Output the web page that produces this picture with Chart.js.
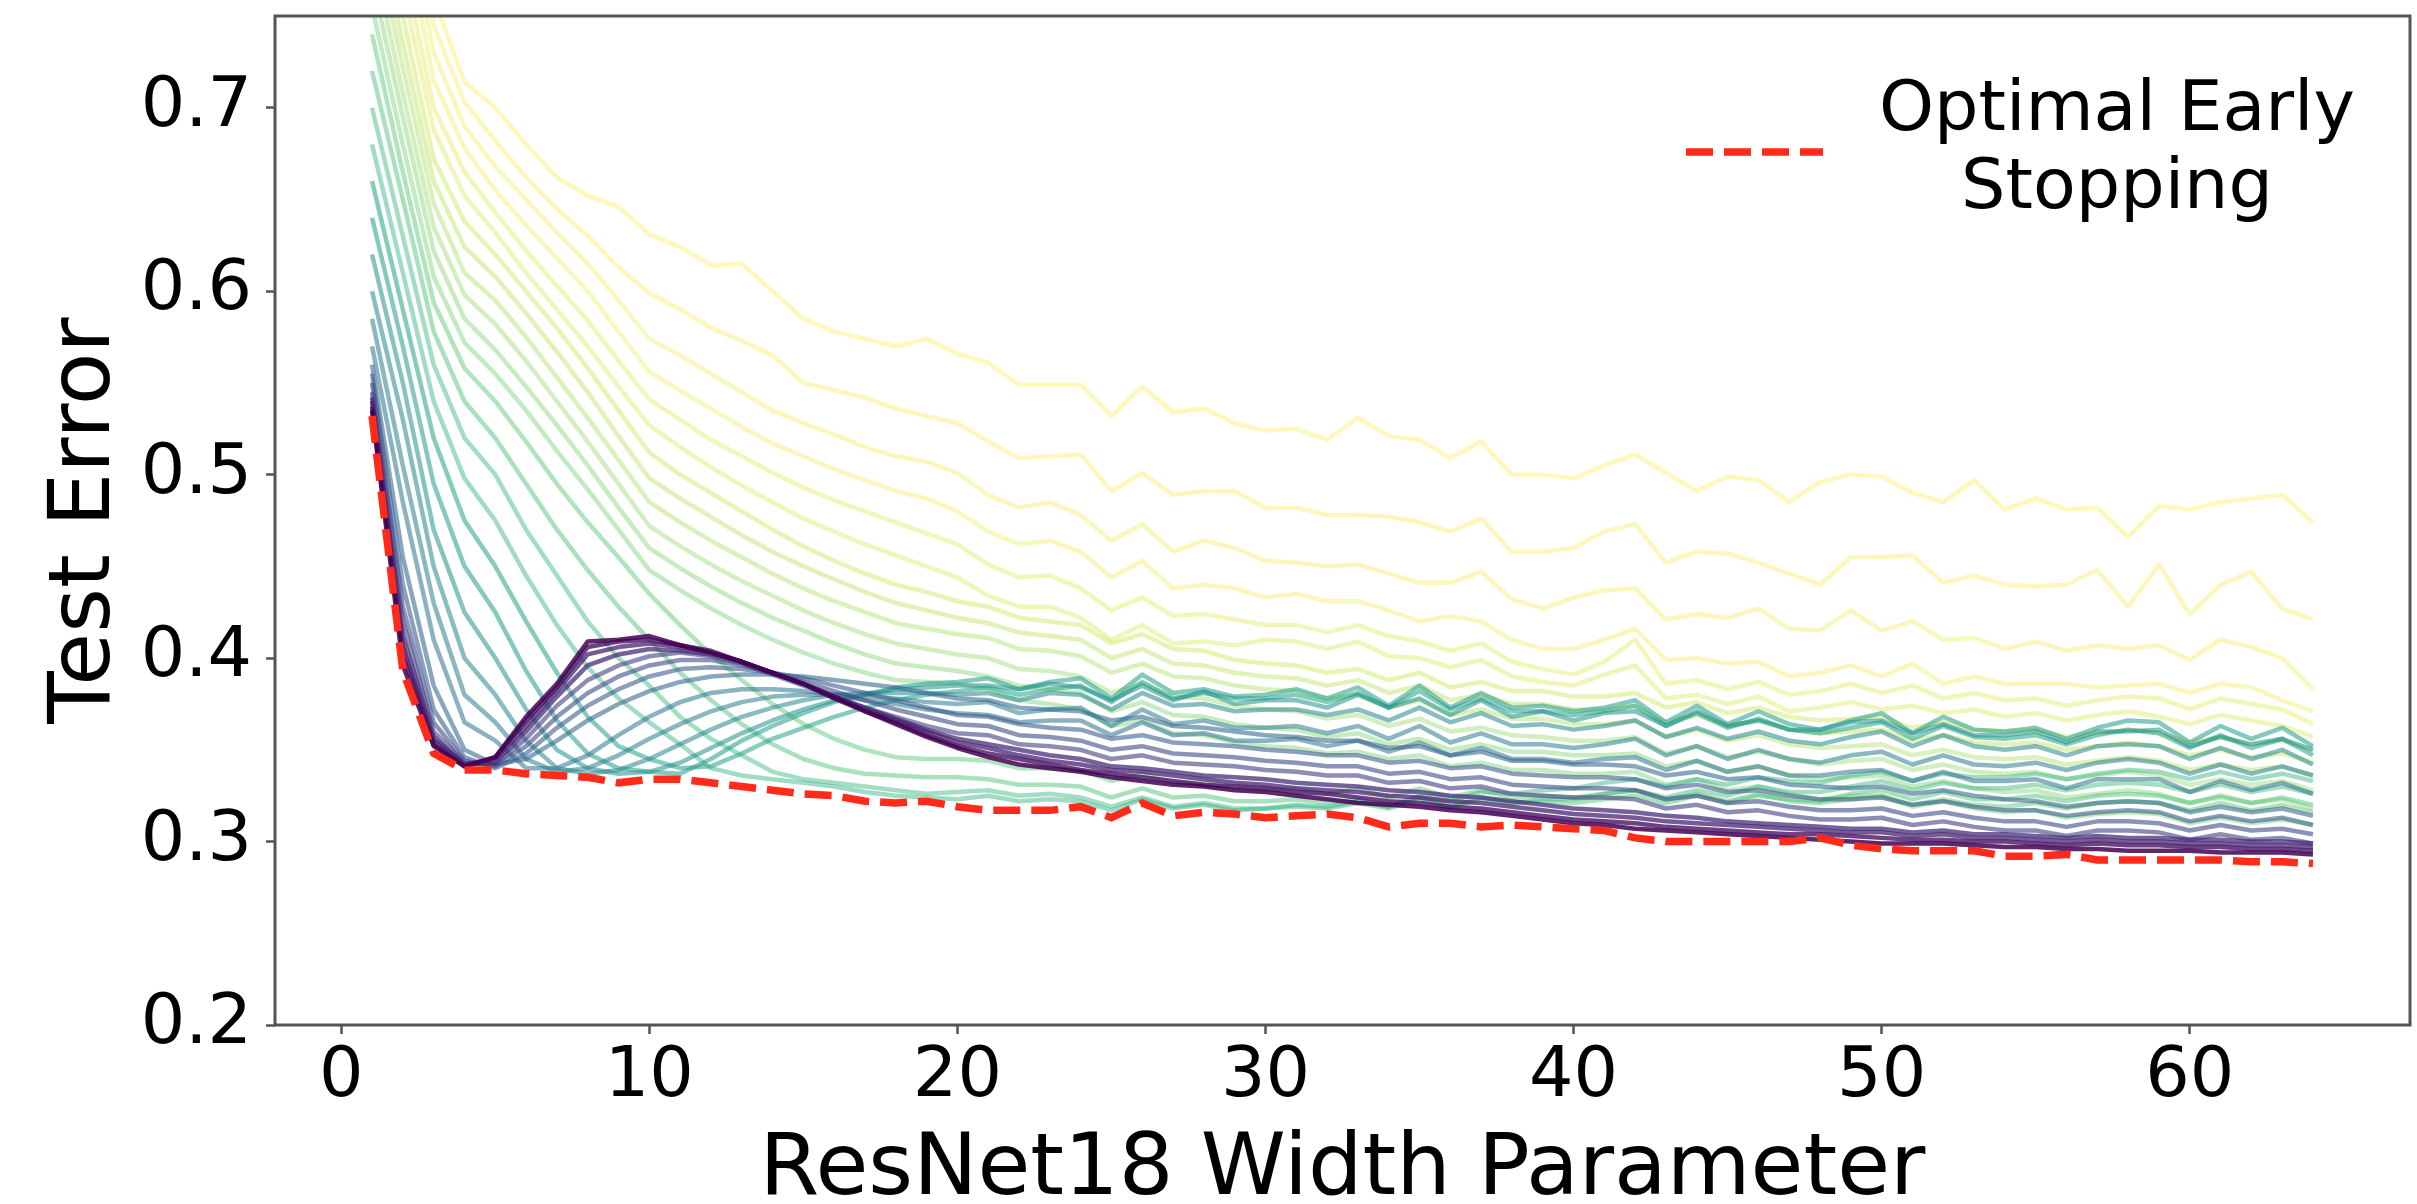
<!DOCTYPE html>
<html><head><meta charset="utf-8">
<script src="https://cdn.jsdelivr.net/npm/chart.js@4.4.1/dist/chart.umd.min.js"></script>
<style>html,body{margin:0;padding:0;background:#fff;}canvas{display:block;}</style>
</head><body>
<canvas id="c" width="2417" height="1204" style="width:2417px;height:1204px"></canvas>
<script>
// ---------- data ----------
const widths = [1,2,3,4,5,6,7,8,9,10,11,12,13,14,15,16,17,18,19,20,21,22,23,24,25,26,27,28,29,30,31,32,33,34,35,36,37,38,39,40,41,42,43,44,45,46,47,48,49,50,51,52,53,54,55,56,57,58,59,60,61,62,63,64];
const xTickValues = [0,10,20,30,40,50,60];
const xTickLabels = ['0','10','20','30','40','50','60'];
const yTickValues = [0.2,0.3,0.4,0.5,0.6,0.7];
const yTickLabels = ['0.2','0.3','0.4','0.5','0.6','0.7'];

// test error per epoch snapshot (early = yellow ... final = purple)
const y1 = [.950,.860,.760,.714,.700,.680,.662,.652,.646,.631,.624,.614,.615,.600,.585,.578,.574,.570,.574,.566,.561,.549,.549,.549,.532,.548,.534,.536,.528,.524,.525,.519,.531,.521,.519,.509,.518,.500,.500,.498,.505,.511,.501,.491,.499,.497,.485,.496,.500,.499,.490,.485,.497,.481,.487,.481,.482,.466,.483,.481,.485,.487,.489,.474];
const y2 = [.930,.840,.745,.703,.682,.662,.645,.630,.613,.599,.590,.580,.573,.565,.550,.546,.542,.536,.532,.528,.518,.509,.510,.511,.491,.501,.489,.491,.491,.482,.482,.478,.478,.477,.474,.469,.476,.458,.458,.460,.469,.473,.452,.458,.457,.452,.446,.440,.455,.455,.456,.441,.445,.440,.439,.440,.448,.428,.451,.424,.440,.447,.427,.421];
const y3 = [.910,.820,.730,.690,.668,.650,.632,.615,.595,.574,.565,.555,.545,.535,.528,.522,.515,.510,.507,.501,.489,.482,.485,.478,.464,.473,.458,.464,.460,.453,.452,.450,.451,.446,.441,.441,.447,.432,.427,.433,.437,.438,.421,.424,.422,.427,.416,.415,.426,.415,.420,.410,.411,.405,.409,.404,.407,.405,.407,.399,.410,.406,.400,.383];
const y4 = [.890,.800,.715,.678,.655,.636,.618,.600,.578,.556,.546,.536,.526,.517,.510,.503,.497,.491,.487,.480,.469,.462,.464,.458,.444,.453,.438,.440,.438,.433,.435,.431,.431,.426,.420,.423,.420,.410,.405,.405,.410,.416,.399,.400,.397,.398,.390,.392,.396,.390,.397,.386,.390,.386,.386,.386,.384,.385,.386,.381,.386,.384,.377,.371];
const y5 = [.870,.780,.700,.665,.643,.622,.603,.584,.562,.541,.530,.519,.510,.501,.493,.486,.480,.474,.468,.462,.451,.444,.445,.438,.426,.433,.423,.424,.421,.418,.418,.414,.418,.412,.409,.404,.408,.398,.394,.391,.398,.410,.386,.388,.383,.387,.380,.382,.386,.381,.385,.378,.381,.377,.378,.374,.377,.379,.378,.372,.378,.375,.372,.364];
const y6 = [.850,.765,.688,.652,.632,.610,.590,.570,.548,.527,.515,.504,.494,.485,.476,.469,.462,.456,.450,.444,.434,.428,.428,.422,.410,.418,.408,.409,.407,.410,.409,.405,.409,.401,.400,.395,.399,.390,.387,.385,.391,.396,.378,.380,.375,.379,.371,.373,.376,.372,.374,.370,.372,.368,.370,.366,.369,.371,.368,.364,.369,.366,.363,.357];
const g1 = [.830,.750,.672,.638,.620,.600,.580,.558,.535,.512,.500,.490,.480,.470,.461,.453,.446,.440,.436,.431,.428,.422,.420,.418,.408,.413,.405,.404,.399,.397,.396,.392,.394,.388,.392,.384,.387,.382,.382,.379,.379,.381,.373,.376,.370,.373,.368,.366,.367,.368,.362,.365,.361,.360,.361,.357,.359,.361,.359,.354,.357,.353,.355,.350];
const g2 = [.815,.735,.660,.624,.608,.588,.567,.545,.521,.498,.487,.477,.467,.458,.450,.443,.436,.430,.426,.422,.419,.414,.412,.410,.400,.405,.397,.396,.392,.390,.389,.385,.388,.381,.385,.377,.380,.375,.375,.372,.372,.374,.365,.369,.363,.366,.361,.359,.360,.361,.355,.358,.354,.353,.354,.350,.352,.354,.352,.347,.350,.346,.348,.343];
const g3 = [.800,.722,.648,.610,.595,.575,.553,.531,.508,.485,.474,.464,.455,.446,.438,.431,.425,.419,.416,.413,.411,.405,.404,.401,.392,.397,.390,.389,.385,.383,.382,.378,.380,.373,.377,.369,.372,.367,.367,.364,.364,.366,.357,.361,.355,.358,.353,.351,.352,.353,.347,.350,.346,.345,.346,.342,.344,.346,.344,.339,.342,.339,.341,.336];
const g4 = [.785,.708,.635,.598,.582,.562,.540,.518,.495,.472,.461,.451,.442,.434,.426,.419,.413,.408,.405,.402,.400,.394,.393,.390,.381,.386,.379,.378,.374,.372,.371,.367,.369,.363,.367,.360,.362,.358,.357,.355,.355,.357,.348,.352,.346,.349,.345,.342,.344,.345,.339,.342,.338,.337,.338,.334,.336,.338,.336,.331,.334,.331,.333,.328];
const g5 = [.770,.695,.622,.585,.568,.548,.527,.505,.482,.460,.449,.439,.430,.422,.415,.408,.402,.397,.395,.393,.390,.385,.383,.381,.371,.376,.369,.368,.364,.362,.361,.357,.359,.353,.356,.350,.353,.349,.349,.347,.347,.348,.341,.344,.338,.341,.336,.334,.335,.336,.330,.333,.329,.327,.328,.324,.326,.328,.326,.321,.324,.321,.323,.318];
const g6 = [.755,.680,.608,.572,.555,.535,.513,.492,.470,.448,.437,.427,.418,.410,.403,.397,.392,.388,.387,.386,.383,.377,.375,.372,.363,.366,.359,.358,.354,.352,.351,.348,.349,.345,.347,.341,.343,.339,.339,.337,.337,.338,.331,.334,.328,.330,.326,.323,.325,.325,.319,.322,.318,.316,.317,.313,.315,.316,.315,.310,.313,.310,.312,.309];
const m1 = [.740,.665,.594,.558,.540,.518,.495,.474,.455,.435,.418,.402,.388,.375,.364,.356,.350,.346,.345,.345,.344,.340,.340,.339,.333,.337,.332,.332,.329,.328,.329,.326,.329,.324,.329,.324,.328,.324,.325,.324,.326,.328,.323,.326,.322,.326,.322,.321,.323,.325,.320,.323,.320,.319,.321,.318,.321,.322,.321,.317,.321,.317,.320,.316];
const m2 = [.720,.650,.578,.540,.520,.495,.470,.448,.428,.410,.392,.377,.364,.353,.345,.340,.337,.336,.335,.335,.334,.331,.331,.330,.324,.329,.324,.325,.322,.322,.323,.321,.323,.319,.324,.319,.323,.321,.322,.321,.323,.325,.321,.325,.321,.325,.323,.322,.326,.328,.323,.327,.323,.323,.325,.322,.325,.326,.325,.321,.325,.321,.324,.320];
const m3 = [.700,.630,.560,.520,.500,.470,.445,.420,.400,.385,.368,.356,.347,.338,.334,.332,.330,.328,.326,.327,.328,.325,.326,.324,.319,.324,.319,.321,.318,.318,.319,.318,.321,.318,.323,.319,.324,.321,.323,.323,.326,.328,.324,.328,.325,.330,.327,.327,.330,.333,.328,.332,.329,.329,.331,.328,.331,.332,.331,.327,.331,.327,.330,.326];
const m4 = [.680,.610,.540,.498,.475,.445,.418,.395,.378,.365,.353,.340,.336,.334,.332,.330,.327,.325,.324,.323,.325,.322,.323,.322,.317,.323,.318,.320,.317,.318,.320,.319,.322,.319,.325,.322,.327,.326,.328,.329,.332,.334,.330,.334,.331,.335,.333,.332,.336,.338,.333,.337,.335,.335,.337,.334,.337,.339,.338,.334,.338,.334,.337,.333];
const t1 = [.660,.590,.520,.475,.450,.420,.392,.368,.352,.345,.340,.341,.348,.356,.362,.368,.373,.377,.380,.382,.384,.380,.383,.385,.376,.387,.378,.381,.378,.378,.380,.376,.381,.373,.382,.372,.378,.371,.371,.369,.371,.374,.363,.370,.362,.367,.361,.359,.362,.365,.356,.363,.357,.356,.358,.353,.358,.361,.359,.351,.358,.351,.356,.347];
const t2 = [.640,.570,.495,.450,.425,.393,.366,.348,.340,.338,.337,.345,.355,.363,.370,.376,.380,.384,.386,.387,.389,.383,.387,.389,.378,.391,.381,.383,.379,.380,.383,.378,.384,.374,.385,.373,.381,.373,.374,.371,.373,.377,.365,.374,.364,.371,.364,.361,.366,.370,.359,.368,.361,.360,.362,.356,.362,.366,.365,.354,.363,.356,.362,.352];
const t3 = [.620,.550,.470,.425,.400,.372,.350,.340,.337,.338,.343,.351,.359,.366,.372,.377,.380,.383,.384,.385,.385,.383,.386,.384,.377,.385,.377,.382,.375,.377,.377,.373,.380,.373,.378,.369,.377,.368,.371,.366,.370,.371,.363,.371,.363,.366,.361,.361,.365,.366,.359,.364,.358,.358,.360,.354,.360,.360,.361,.352,.357,.353,.356,.350];
const t4 = [.600,.530,.450,.400,.380,.355,.340,.337,.339,.345,.353,.361,.368,.373,.377,.380,.381,.381,.381,.380,.381,.377,.381,.380,.372,.381,.374,.375,.371,.372,.372,.369,.372,.366,.373,.365,.370,.363,.364,.361,.363,.366,.357,.362,.356,.360,.355,.353,.357,.360,.352,.358,.352,.350,.352,.347,.352,.353,.352,.345,.351,.345,.350,.342];
const t5 = [.585,.505,.430,.380,.365,.345,.338,.340,.347,.356,.364,.371,.376,.379,.380,.380,.379,.378,.376,.375,.376,.370,.372,.373,.363,.372,.364,.366,.362,.362,.363,.359,.363,.356,.363,.354,.359,.353,.353,.351,.353,.356,.347,.352,.345,.350,.345,.343,.347,.349,.342,.347,.342,.341,.343,.339,.343,.345,.343,.337,.342,.337,.341,.336];
const t6 = [.570,.485,.410,.365,.355,.340,.340,.347,.358,.368,.376,.381,.383,.383,.382,.380,.377,.375,.372,.370,.369,.365,.366,.366,.358,.365,.358,.359,.355,.355,.356,.352,.355,.349,.354,.347,.351,.345,.345,.343,.345,.346,.339,.344,.338,.341,.336,.336,.338,.339,.333,.338,.333,.333,.334,.329,.334,.334,.334,.327,.333,.328,.332,.326];
const b1 = [.560,.455,.385,.350,.342,.345,.355,.366,.375,.382,.387,.390,.391,.391,.390,.388,.386,.384,.381,.378,.377,.373,.372,.371,.366,.368,.363,.362,.360,.358,.357,.355,.355,.351,.352,.347,.349,.344,.344,.342,.342,.341,.336,.338,.334,.335,.331,.330,.329,.330,.326,.328,.325,.323,.322,.319,.321,.322,.321,.316,.319,.316,.318,.314];
const b2 = [.555,.440,.372,.346,.340,.348,.362,.374,.383,.390,.394,.395,.394,.392,.389,.385,.381,.377,.373,.369,.368,.364,.362,.361,.356,.358,.354,.353,.352,.350,.349,.347,.347,.343,.344,.340,.341,.337,.336,.335,.335,.334,.329,.331,.327,.328,.325,.323,.323,.324,.320,.322,.319,.317,.317,.314,.316,.317,.316,.311,.314,.311,.313,.309];
const b3 = [.550,.428,.365,.344,.341,.352,.368,.381,.390,.396,.399,.399,.396,.392,.387,.382,.377,.372,.368,.364,.363,.358,.357,.355,.350,.352,.348,.347,.346,.344,.343,.341,.341,.337,.338,.334,.335,.331,.330,.329,.329,.328,.323,.325,.321,.322,.319,.317,.317,.318,.314,.316,.313,.311,.311,.308,.311,.311,.310,.306,.309,.306,.307,.304];
const b4 = [.545,.420,.360,.343,.342,.356,.374,.388,.396,.401,.403,.401,.397,.391,.385,.379,.373,.368,.363,.359,.358,.353,.352,.350,.345,.347,.343,.342,.341,.339,.338,.336,.336,.332,.333,.329,.330,.326,.325,.324,.324,.323,.318,.320,.316,.317,.314,.312,.312,.313,.309,.311,.308,.306,.306,.303,.306,.306,.305,.301,.304,.301,.302,.299];
const p1 = [.542,.412,.357,.342,.343,.360,.379,.396,.402,.405,.404,.402,.398,.392,.386,.379,.373,.367,.361,.356,.353,.350,.347,.345,.341,.340,.338,.336,.335,.334,.332,.331,.330,.328,.327,.325,.324,.322,.320,.318,.317,.316,.314,.313,.311,.310,.309,.308,.307,.307,.305,.306,.304,.304,.303,.302,.303,.302,.302,.301,.301,.300,.300,.299];
const p2 = [.540,.406,.355,.342,.345,.363,.382,.402,.406,.408,.406,.403,.398,.392,.386,.379,.372,.366,.360,.354,.351,.347,.344,.342,.339,.338,.336,.334,.332,.331,.329,.328,.327,.325,.324,.322,.321,.319,.317,.315,.314,.313,.311,.310,.309,.308,.307,.306,.305,.305,.303,.304,.302,.302,.301,.300,.301,.300,.300,.299,.299,.298,.298,.297];
const p3 = [.537,.402,.353,.341,.346,.366,.384,.406,.409,.410,.407,.404,.398,.392,.386,.379,.371,.365,.358,.352,.348,.345,.342,.339,.337,.335,.333,.331,.330,.329,.327,.326,.324,.322,.321,.319,.318,.316,.314,.312,.311,.310,.308,.307,.306,.305,.304,.304,.303,.302,.301,.301,.300,.300,.299,.298,.299,.298,.298,.297,.297,.296,.296,.295];
const p4 = [.535,.396,.352,.341,.346,.368,.386,.409,.410,.412,.407,.403,.398,.392,.386,.378,.371,.364,.357,.351,.346,.342,.340,.338,.335,.333,.331,.330,.328,.327,.325,.323,.321,.320,.319,.317,.316,.314,.312,.310,.309,.307,.306,.305,.304,.303,.302,.301,.300,.299,.299,.299,.298,.297,.297,.296,.296,.295,.295,.295,.294,.294,.294,.293];
const optimalEarlyStopping = [.532,.393,.348,.339,.339,.337,.336,.335,.332,.334,.334,.332,.330,.328,.326,.325,.322,.321,.322,.319,.317,.317,.317,.319,.313,.321,.314,.316,.315,.313,.314,.315,.313,.308,.310,.310,.308,.309,.308,.307,.306,.302,.300,.300,.300,.300,.300,.302,.298,.296,.295,.295,.295,.292,.292,.293,.290,.290,.290,.290,.290,.289,.289,.288];

const epochSeries = [y1,y2,y3,y4,y5,y6,g1,g2,g3,g4,g5,g6,m1,m2,m3,m4,t1,t2,t3,t4,t5,t6,b1,b2,b3,b4,p1,p2,p3,p4];

// ---------- style ----------
const colorPos = [1.0,.99,.98,.97,.95,.93,.90,.87,.84,.81,.78,.75,.72,.69,.66,.63,.58,.54,.50,.46,.42,.38,.33,.28,.23,.18,.13,.09,.05,0.0];
const lineAlpha = [.30,.30,.30,.30,.32,.32,.35,.35,.35,.35,.38,.38,.45,.45,.45,.45,.55,.55,.55,.55,.55,.55,.58,.58,.60,.60,.75,.75,.80,.85];
const viridisStops = ['#440154','#482475','#414487','#355f8d','#2a788e','#21918c','#22a884','#44bf70','#7ad151','#bddf26','#fde725'];
function hexRgb(h){return [parseInt(h.slice(1,3),16),parseInt(h.slice(3,5),16),parseInt(h.slice(5,7),16)];}
function viridis(t,a){
  const s=t*10, i=Math.min(9,Math.floor(s)), f=s-i;
  const c0=hexRgb(viridisStops[i]), c1=hexRgb(viridisStops[i+1]);
  const c=c0.map((v,k)=>Math.round(v+(c1[k]-v)*f));
  return 'rgba('+c[0]+','+c[1]+','+c[2]+','+a+')';
}
const FONT = "'DejaVu Sans', sans-serif";
const RED = '#ff2a1a';
const SPINE = '#555555';

const datasets = epochSeries.map((arr,i)=>({
  data: widths.map((w,k)=>({x:w,y:arr[k]})),
  borderColor: viridis(colorPos[i], lineAlpha[i]),
  borderWidth: 4.5,
  pointRadius: 0,
  fill: false,
  tension: 0,
  borderJoinStyle: 'round',
  clip: 0,
  order: epochSeries.length - i
}));
datasets.push({
  label: 'Optimal Early Stopping',
  data: widths.map((w,k)=>({x:w,y:optimalEarlyStopping[k]})),
  borderColor: RED,
  borderWidth: 7.5,
  borderDash: [27,11],
  pointRadius: 0,
  fill: false,
  tension: 0,
  clip: 0,
  order: 0
});

const framePlugin = {
  id: 'frame',
  afterDatasetsDraw(chart){
    const {ctx, chartArea:a} = chart;
    ctx.save();
    ctx.strokeStyle = SPINE; ctx.lineWidth = 3;
    ctx.strokeRect(a.left, a.top, a.right-a.left, a.bottom-a.top);
    ctx.restore();
  }
};
const legendPlugin = {
  id: 'legendBox',
  afterDraw(chart){
    const {ctx, chartArea:a} = chart;
    const x0 = a.right - 724, x1 = a.right - 587, ly = a.top + 136;
    ctx.save();
    ctx.strokeStyle = RED; ctx.lineWidth = 7.5; ctx.setLineDash([27,11]);
    ctx.beginPath(); ctx.moveTo(x0, ly); ctx.lineTo(x1, ly); ctx.stroke();
    ctx.setLineDash([]);
    ctx.fillStyle = '#000';
    ctx.font = '70px ' + FONT;
    ctx.textAlign = 'center'; ctx.textBaseline = 'alphabetic';
    const cx = a.right - 293;
    ctx.fillText('Optimal Early', cx, a.top + 114);
    ctx.fillText('Stopping', cx, a.top + 192);
    ctx.restore();
  }
};

new Chart(document.getElementById('c'), {
  type: 'line',
  data: { datasets },
  options: {
    responsive: false,
    animation: false,
    devicePixelRatio: 1,
    layout: { padding: { left: 0, right: 7, top: 16, bottom: 0 } },
    plugins: { legend: { display: false }, tooltip: { enabled: false } },
    elements: { point: { radius: 0 } },
    scales: {
      x: {
        type: 'linear', min: -2.15, max: 67.15,
        afterBuildTicks: s => { s.ticks = xTickValues.map(v=>({value:v})); },
        afterFit: s => { s.height = 179; s.paddingLeft = 0; s.paddingRight = 0; },
        ticks: { autoSkip: false, maxRotation: 0, padding: 2, color: '#000',
                 font: { family: FONT, size: 70 },
                 callback: (v, i) => xTickLabels[i] },
        grid: { display: true, drawOnChartArea: false, drawTicks: true, tickLength: 9, tickWidth: 2.5, tickColor: SPINE },
        border: { display: false },
        title: { display: true, text: 'ResNet18 Width Parameter', color: '#000',
                 font: { family: FONT, size: 86, lineHeight: 1 }, padding: { top: 0, bottom: -11 } }
      },
      y: {
        min: 0.2, max: 0.75,
        afterBuildTicks: s => { s.ticks = yTickValues.map(v=>({value:v})); },
        afterFit: s => { s.width = 275; s.paddingTop = 0; s.paddingBottom = 0; },
        ticks: { padding: 14, color: '#000', font: { family: FONT, size: 70 },
                 callback: (v, i) => yTickLabels[i] },
        grid: { display: true, drawOnChartArea: false, drawTicks: true, tickLength: 9, tickWidth: 2.5, tickColor: SPINE },
        border: { display: false },
        title: { display: true, text: 'Test Error', color: '#000',
                 font: { family: FONT, size: 86, lineHeight: 1 }, padding: { top: 44, bottom: 0 } }
      }
    }
  },
  plugins: [framePlugin, legendPlugin]
});
</script>
</body></html>
